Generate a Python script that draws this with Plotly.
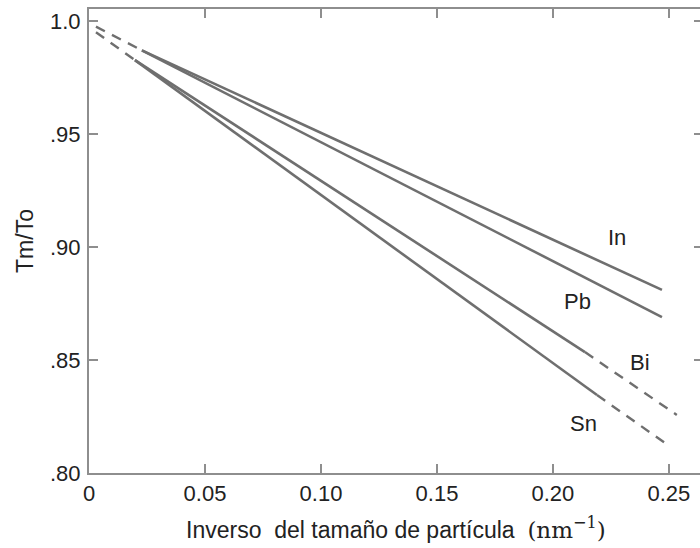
import plotly.graph_objects as go

# ---- data ----
series = ["In", "Pb", "Bi", "Sn"]
solid_x = {"In": [0.0228, 0.247], "Pb": [0.0228, 0.247],
           "Bi": [0.0198, 0.2138], "Sn": [0.0198, 0.219]}
solid_y = {"In": [0.987, 0.881], "Pb": [0.987, 0.869],
           "Bi": [0.9827, 0.8535], "Sn": [0.9827, 0.8345]}
# extrapolated (dashed) parts
start_dash_x = {"InPb": [0.003, 0.0228], "BiSn": [0.003, 0.0198]}
start_dash_y = {"InPb": [0.9975, 0.987], "BiSn": [0.995, 0.9827]}
end_dash_x = {"Bi": [0.2138, 0.2534], "Sn": [0.219, 0.2483]}
end_dash_y = {"Bi": [0.8535, 0.8257], "Sn": [0.8345, 0.8133]}
label_x = {"In": 0.2276, "Pb": 0.2108, "Bi": 0.2375, "Sn": 0.213}
label_y = {"In": 0.9044, "Pb": 0.8757, "Bi": 0.8487, "Sn": 0.822}

x_ticks = [0, 0.05, 0.10, 0.15, 0.20, 0.25]
x_ticktext = ["0", "0.05", "0.10", "0.15", "0.20", "0.25"]
y_ticks = [0.80, 0.85, 0.90, 0.95, 1.0]
y_ticktext = [".80", ".85", ".90", ".95", "1.0"]

LINE = "#6f6f6f"
AXIS = "#8e8e8e"
FONT = "Liberation Sans, Arial, sans-serif"
DASH = "10px,8px"

fig = go.Figure()
for s in series:
    fig.add_trace(go.Scatter(x=solid_x[s], y=solid_y[s], mode="lines",
                             line=dict(color=LINE, width=2.6), showlegend=False,
                             hoverinfo="skip"))
for k in start_dash_x:
    fig.add_trace(go.Scatter(x=start_dash_x[k], y=start_dash_y[k], mode="lines",
                             line=dict(color=LINE, width=2.4, dash=DASH),
                             showlegend=False, hoverinfo="skip"))
for k in end_dash_x:
    fig.add_trace(go.Scatter(x=end_dash_x[k], y=end_dash_y[k], mode="lines",
                             line=dict(color=LINE, width=2.4, dash=DASH),
                             showlegend=False, hoverinfo="skip"))
# invisible trace for right-side tick axis
fig.add_trace(go.Scatter(x=[0.1], y=[0.9], yaxis="y2", mode="markers",
                         marker=dict(opacity=0), showlegend=False, hoverinfo="skip"))

for s in series:
    fig.add_annotation(x=label_x[s], y=label_y[s], text=s, showarrow=False,
                       font=dict(family=FONT, size=22, color="#222222"),
                       xanchor="center", yanchor="middle")

fig.add_annotation(
    xref="paper", yref="paper", x=0.5025, y=-0.118, showarrow=False,
    xanchor="center", yanchor="middle",
    text=("Inverso&nbsp;&nbsp;del tamaño de partícula&nbsp;&nbsp;"
          "<span style='font-family:\"DejaVu Serif\",\"Liberation Serif\",serif'>"
          "(nm<sup>−1</sup>)</span>"),
    font=dict(family=FONT, size=23, color="#222222"))

fig.update_layout(
    width=700, height=548,
    margin=dict(l=89, r=0, t=9, b=75),
    paper_bgcolor="white", plot_bgcolor="white",
    font=dict(family=FONT, size=22, color="#222222"),
    xaxis=dict(range=[0, 0.2634], tickvals=x_ticks, ticktext=x_ticktext,
               showgrid=False, zeroline=False, showline=True, linecolor=AXIS,
               linewidth=2, mirror="ticks", ticks="inside", ticklen=9,
               tickcolor=AXIS, tickwidth=1.5,
               tickfont=dict(family=FONT, size=22, color="#222222")),
    yaxis=dict(range=[0.80, 1.0053], tickvals=y_ticks, ticktext=y_ticktext,
               showgrid=False, zeroline=False, showline=True, linecolor=AXIS,
               linewidth=2, ticks="inside", ticklen=9, tickcolor=AXIS,
               tickwidth=1.5, ticklabelstandoff=2,
               tickfont=dict(family=FONT, size=22, color="#222222"),
               title=dict(text="Tm/To", standoff=10,
                          font=dict(family=FONT, size=23, color="#222222"))),
    yaxis2=dict(range=[0.80, 1.0053], tickvals=y_ticks, overlaying="y",
                side="right", showgrid=False, zeroline=False, showline=False,
                ticks="inside", ticklen=6, tickcolor=AXIS, tickwidth=1.5,
                showticklabels=False),
)

fig.write_html("out.html")
